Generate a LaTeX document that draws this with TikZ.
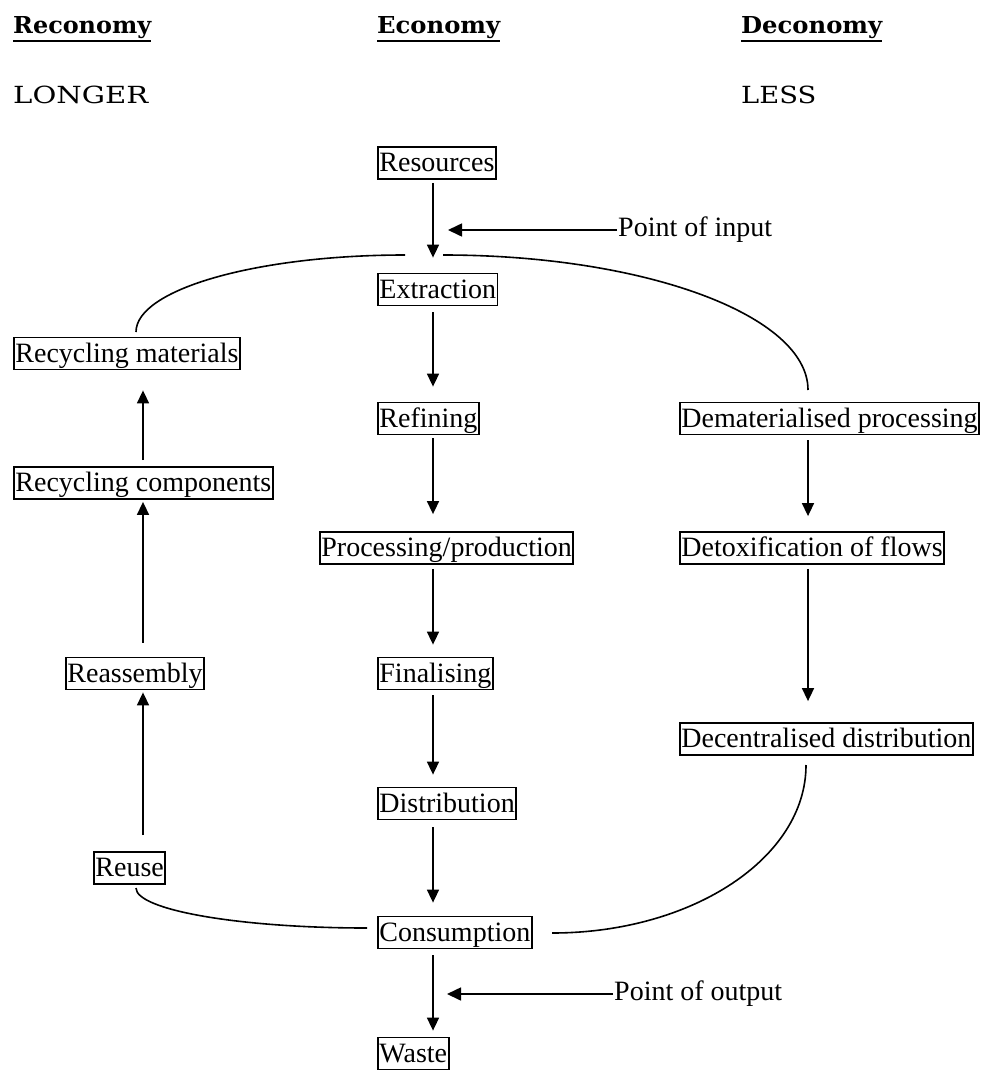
\documentclass[tikz,border=0pt]{standalone}
\usepackage{fontspec}
\setmainfont{Liberation Serif}
\newfontfamily\hdfont{DejaVu Serif}
\usetikzlibrary{arrows.meta}
\begin{document}
\begin{tikzpicture}[x=1pt,y=-1pt,
  lw/.style={line width=1.6pt},
  stage/.style={draw, line width=1.8pt, anchor=west, inner xsep=1.5pt, inner ysep=1pt,
    text height=23.5pt, text depth=6.5pt, font=\fontsize{28}{30}\selectfont},
  flow/.style={lw, -{Triangle[length=13pt,width=12pt]}},
  note/.style={anchor=west, inner sep=1pt, font=\fontsize{28}{30}\selectfont},
  head/.style={anchor=base west, inner sep=0pt, font=\hdfont},
  rule/.style={line width=1.6pt},
  loop/.style={lw}]

\fill[white] (0,0) rectangle (982,1070);
\useasboundingbox (0,0) rectangle (982,1070);

% column headings
\node[head] (hre) at (13,34)  {\resizebox{138pt}{17pt}{\bfseries Reconomy}};
\node[head] (hec) at (377,34) {\resizebox{123pt}{17pt}{\bfseries Economy}};
\node[head] (hde) at (741,34) {\resizebox{141pt}{17pt}{\bfseries Deconomy}};
\foreach \h in {hre,hec,hde}
  \draw[rule] ([yshift=-7pt]\h.base west) -- ([yshift=-7pt]\h.base east);
\node[head] (longer) at (13,104)  {\resizebox{135pt}{17.5pt}{LONGER}};
\node[head] (less)   at (741,104) {\resizebox{75pt}{17.5pt}{LESS}};

% main economy chain
\node[stage] (res)   at (377,163)   {Resources};
\node[stage] (ext)   at (377,289.5) {Extraction};
\node[stage] (ref)   at (377,418.5) {Refining};
\node[stage] (proc)  at (319,548)   {Processing/production};
\node[stage] (fin)   at (377,673.5) {Finalising};
\node[stage] (dist)  at (377,803.5) {Distribution};
\node[stage] (cons)  at (377,932.5) {Consumption};
\node[stage] (waste) at (377,1053.5) {Waste};

% reconomy chain
\node[stage] (recm)  at (13,353.5) {Recycling materials};
\node[stage] (recc)  at (13,483)   {Recycling components};
\node[stage] (reas)  at (65,673.5) {Reassembly};
\node[stage] (reuse) at (93,868)   {Reuse};

% deconomy chain
\node[stage] (demat) at (679,418.5) {Dematerialised processing};
\node[stage] (detox) at (679,548)   {Detoxification of flows};
\node[stage] (decen) at (679,739)   {Decentralised distribution};

% side notes
\node[note] (pin)  at (617,230) {Point of input};
\node[note] (pout) at (613,994) {Point of output};

% arrow columns
\coordinate (cx) at (433,0);
\coordinate (lx) at (143,0);
\coordinate (rx) at (808,0);

\draw[flow, shorten <=3pt, shorten >=15pt] (res.south -| cx) -- (ext.north -| cx);
\draw[flow, shorten <=6pt, shorten >=15pt] (ext.south -| cx) -- (ref.north -| cx);
\draw[flow, shorten <=3pt, shorten >=17pt] (ref.south -| cx) -- (proc.north -| cx);
\draw[flow, shorten <=4pt, shorten >=12pt] (proc.south -| cx) -- (fin.north -| cx);
\draw[flow, shorten <=5pt, shorten >=12pt] (fin.south -| cx) -- (dist.north -| cx);
\draw[flow, shorten <=7pt, shorten >=13pt] (dist.south -| cx) -- (cons.north -| cx);
\draw[flow, shorten <=6pt, shorten >=6pt] (cons.south -| cx) -- (waste.north -| cx);

\draw[flow, shorten <=16pt, shorten >=2pt] (reuse.north -| lx) -- (reas.south -| lx);
\draw[flow, shorten <=14pt, shorten >=2pt] (reas.north -| lx) -- (recc.south -| lx);
\draw[flow, shorten <=6pt, shorten >=20pt] (recc.north -| lx) -- (recm.south -| lx);

\draw[flow, shorten <=5pt, shorten >=15pt] (demat.south -| rx) -- (detox.north -| rx);
\draw[flow, shorten <=4pt, shorten >=21pt] (detox.south -| rx) -- (decen.north -| rx);

\draw[lw, -{Triangle[length=14pt,width=13pt]}, shorten >=15pt] (pin.west) -- (pin.west -| cx);
\draw[lw, -{Triangle[length=14pt,width=13pt]}, shorten >=14pt] (pout.west) -- (pout.west -| cx);

% loops joining the three economies
\coordinate (tl1) at (405,255);
\coordinate (tl2) at (136,332);
\coordinate (tr1) at (443,255);
\coordinate (tr2) at (808,390);
\coordinate (br1) at (806,765);
\coordinate (br2) at (552,933);
\coordinate (bl1) at (136,888);
\coordinate (bl2) at (367,928);

\draw[loop] (tl1) .. controls (256.4,255) and (136,289.5) .. (tl2);
\draw[loop] (tr1) .. controls (644.6,255) and (808,315.4) .. (tr2);
\draw[loop] (br1) .. controls (806,857.8) and (692.3,933) .. (br2);
\draw[loop] (bl1) .. controls (136,910) and (239.4,928) .. (bl2);
\end{tikzpicture}
\end{document}
